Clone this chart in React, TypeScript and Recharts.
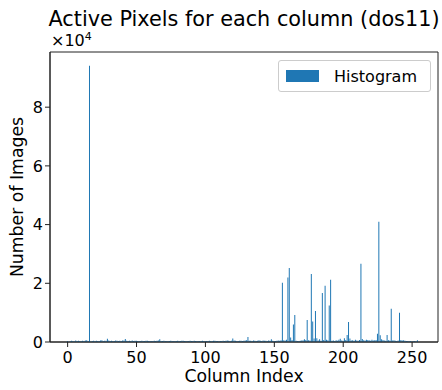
import { BarChart, Bar, XAxis, YAxis, ReferenceArea } from 'recharts';

// pixel column index (0..255)
const columnIndex: number[] = Array.from({ length: 256 }, (_, i) => i);

// number of images with an active pixel in each column
const imageCounts: number[] = [
  300, 0, 250, 400, 350, 200, 500, 300, 450, 350, 250, 400, 300, 500, 600, 350,
  94100, 200, 300, 450, 250, 400, 350, 300, 500, 600, 350, 400, 450, 1100, 500, 300,
  400, 350, 300, 500, 450, 350, 400, 300, 550, 500, 1000, 450, 300, 400, 350, 500,
  300, 400, 450, 350, 300, 250, 400, 350, 300, 450, 400, 350, 300, 250, 350, 400,
  300, 450, 500, 900, 350, 300, 400, 350, 250, 300, 350, 400, 300, 250, 350, 300,
  400, 350, 300, 450, 400, 300, 350, 250, 300, 400, 350, 300, 450, 350, 300, 250,
  300, 350, 400, 300, 250, 350, 300, 400, 350, 300, 450, 400, 350, 300, 250, 350,
  300, 400, 350, 450, 500, 400, 350, 450, 1200, 500, 400, 350, 300, 400, 450, 350,
  400, 500, 600, 1700, 450, 400, 350, 500, 400, 350, 450, 600, 400, 350, 500, 450,
  400, 350, 500, 450, 900, 400, 350, 300, 450, 500, 400, 600, 20200, 600, 500, 800,
  22000, 25200, 1500, 700, 6000, 9200, 400, 350, 300, 400, 500, 600, 900, 700, 7500, 600,
  500, 23200, 7000, 1200, 10600, 1300, 500, 900, 400, 16700, 700, 19200, 800, 600, 12400, 21200,
  400, 500, 350, 600, 400, 800, 1100, 500, 400, 1300, 700, 2400, 6800, 1200, 500, 600,
  400, 800, 500, 400, 700, 26700, 1000, 600, 500, 800, 700, 600, 400, 800, 500, 600,
  700, 2800, 41000, 2300, 900, 700, 500, 400, 2400, 600, 500, 11300, 500, 600, 400, 350,
  500, 10000, 700, 500, 600, 400, 300, 350, 250, 300, 200, 250, 300, 200, 600, 0,
];

const xTicks = [0, 50, 100, 150, 200, 250];
const yTicks = [0, 20000, 40000, 60000, 80000];

const data = columnIndex.map((col, i) => ({ col, count: imageCounts[i] }));

const FONT = '"DejaVu Sans", sans-serif';
const BLUE = '#1f77b4';
const X_DOMAIN: [number, number] = [-12.8, 268.8];
const Y_DOMAIN: [number, number] = [0, 98800];

function HistLegend() {
  return (
    <div
      style={{
        position: 'absolute',
        left: 278,
        top: 60,
        width: 153,
        height: 32,
        boxSizing: 'border-box',
        border: '1px solid #cccccc',
        borderRadius: 3,
        background: 'rgba(255,255,255,0.8)',
        display: 'flex',
        alignItems: 'center',
        fontSize: 16,
        color: '#000',
      }}
    >
      <span style={{ width: 33, height: 12, background: BLUE, marginLeft: 7, marginRight: 15 }} />
      <span>Histogram</span>
    </div>
  );
}

export default function App() {
  return (
    <div style={{ position: 'relative', width: 442, height: 390, background: '#fff', fontFamily: FONT }}>
      <style>{'body{margin:0}'}</style>
      <div
        style={{
          position: 'absolute',
          left: 44,
          top: 9,
          width: 400,
          textAlign: 'center',
          fontSize: 20.8,
          lineHeight: '21px',
          whiteSpace: 'nowrap',
          color: '#000',
        }}
      >
        Active Pixels for each column (dos11)
      </div>
      <div style={{ position: 'absolute', left: 51, top: 34, fontSize: 16, lineHeight: '14px', color: '#000' }}>
        ×10<span style={{ position: 'relative', top: -6, fontSize: 11, lineHeight: '11px' }}>4</span>
      </div>
      <BarChart width={442} height={390} data={data} margin={{ top: 52, right: 4, bottom: 0, left: 0 }} barCategoryGap={0}>
        <XAxis
          dataKey="col"
          type="number"
          domain={X_DOMAIN}
          allowDataOverflow
          ticks={xTicks}
          height={48}
          tickSize={5}
          tickMargin={5}
          stroke="#222"
          tick={{ fontSize: 16, fill: '#000', fontFamily: FONT }}
          label={{ value: 'Column Index', position: 'insideBottom', offset: 8, fontSize: 17.3, fill: '#000', fontFamily: FONT }}
        />
        <YAxis
          type="number"
          domain={Y_DOMAIN}
          allowDataOverflow
          ticks={yTicks}
          width={50}
          tickSize={5}
          tickMargin={2}
          stroke="#222"
          tickFormatter={(v: number) => String(v / 10000)}
          tick={{ fontSize: 16, fill: '#000', fontFamily: FONT }}
          label={{
            value: 'Number of Images',
            angle: -90,
            position: 'insideLeft',
            offset: 17,
            fontSize: 17.3,
            fill: '#000',
            fontFamily: FONT,
            style: { textAnchor: 'middle' },
          }}
        />
        <Bar dataKey="count" name="Histogram" fill={BLUE} isAnimationActive={false} />
        <ReferenceArea
          x1={X_DOMAIN[0]}
          x2={X_DOMAIN[1]}
          y1={Y_DOMAIN[0]}
          y2={Y_DOMAIN[1]}
          fill="none"
          stroke="#222"
          strokeWidth={1}
          ifOverflow="visible"
        />
      </BarChart>
      <HistLegend />
    </div>
  );
}
